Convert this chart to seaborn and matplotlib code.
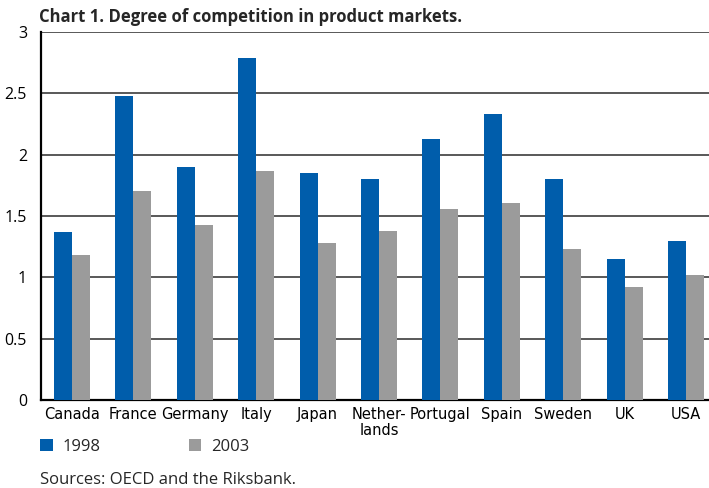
import matplotlib
matplotlib.use("Agg")
import matplotlib.pyplot as plt
import seaborn as sns
import pandas as pd
import numpy as np

countries = ["Canada", "France", "Germany", "Italy", "Japan", "Nether-\nlands",
             "Portugal", "Spain", "Sweden", "UK", "USA"]
values_1998 = [1.37, 2.475, 1.90, 2.79, 1.85, 1.80, 2.13, 2.33, 1.80, 1.15, 1.30]
values_2003 = [1.18, 1.705, 1.43, 1.87, 1.28, 1.38, 1.56, 1.61, 1.23, 0.92, 1.02]
years = ["1998", "2003"]
y_ticks = [0, 0.5, 1, 1.5, 2, 2.5, 3]
y_tick_labels = ["0", "0.5", "1", "1.5", "2", "2.5", "3"]

BLUE = "#005DAB"
GREY = "#9B9B9B"

df = pd.DataFrame({
    "country": countries * 2,
    "year": [years[0]] * len(countries) + [years[1]] * len(countries),
    "value": values_1998 + values_2003,
})

sns.set_theme(style="white")
plt.rcParams["font.family"] = ["Open Sans", "DejaVu Sans"]

fig = plt.figure(figsize=(7.09, 4.88), dpi=100)
W, H = 709, 488
ax = fig.add_axes([41 / W, (H - 400) / H, 676 / W, 368 / H])

sns.barplot(data=df, x="country", y="value", hue="year", order=countries,
            hue_order=years, palette=[BLUE, GREY], width=0.586, gap=0,
            saturation=1, linewidth=0, ax=ax, zorder=3)

ax.set_xlim(-0.5, len(countries) - 0.5)
ax.set_ylim(0, 3)
ax.set_yticks(y_ticks)
ax.set_yticklabels(y_tick_labels)
ax.yaxis.grid(True, color="#2b2b2b", linewidth=1.1, zorder=0)
ax.set_axisbelow(True)
ax.set_xlabel("")
ax.set_ylabel("")

for side in ["top", "right"]:
    ax.spines[side].set_visible(False)
for side in ["left", "bottom"]:
    ax.spines[side].set_color("black")
    ax.spines[side].set_linewidth(1.6)

# category labels at the centre of each group, small ticks between groups
ax.set_xticks(np.arange(len(countries)))
ax.set_xticklabels(countries, fontsize=10.5,
                   fontfamily=["Liberation Sans Narrow", "DejaVu Sans"],
                   linespacing=1.1)
ax.tick_params(axis="x", which="major", length=0, pad=5, colors="black")
ax.set_xticks(np.arange(len(countries) - 1) + 0.5, minor=True)
ax.tick_params(axis="x", which="minor", length=6, width=1, direction="in",
               color="black")
ax.tick_params(axis="y", length=0, pad=10, labelsize=11.5, labelcolor="black")

sns.move_legend(ax, loc="center left", bbox_to_anchor=(40 / W, 1 - 447 / H),
                bbox_transform=fig.transFigure, ncol=2, frameon=False,
                title=None, fontsize=12, handlelength=0.75, handleheight=0.75,
                handletextpad=0.6, columnspacing=5.3, borderaxespad=0,
                borderpad=0)

fig.text(39 / W, 1 - 17 / H, "Chart 1. Degree of competition in product markets.",
         fontsize=12, fontweight="bold", va="center", ha="left")
fig.text(40 / W, 1 - 480 / H, "Sources: OECD and the Riksbank.",
         fontsize=12, va="center", ha="left")

fig.savefig("out.png", dpi=100, facecolor="white")
